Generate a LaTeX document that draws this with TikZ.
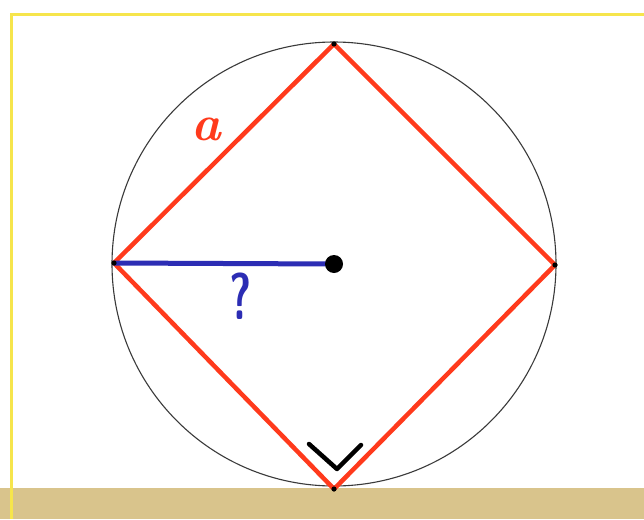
\documentclass[tikz,border=0pt]{standalone}
\usepackage{tikz}
\usetikzlibrary{arrows.meta,positioning}
\definecolor{sqRed}{HTML}{FF3A1C}
\definecolor{sqBlue}{HTML}{2C2DB4}
\definecolor{sqYellow}{HTML}{F6E54C}
\definecolor{sqTan}{HTML}{D9C48C}
\definecolor{sqGray}{HTML}{3A3A3A}
\tikzset{
  % Square inscribed in the circle.
  sq/side/.style={draw=sqRed, line width=4.5pt, line cap=round, line join=round},
  % The circle itself, thin.
  sq/circ/.style={draw=sqGray, line width=1.1pt},
  % The radius we are asking for.
  sq/radius/.style={draw=sqBlue, line width=5pt},
  % Right angle mark at the lower corner.
  sq/mark/.style={draw=black, line width=4.5pt, line cap=round, line join=round},
  % Labels, handwritten look.
  sq/label/.style={inner sep=0pt},
}

\begin{document}
\begin{tikzpicture}[x=1pt,y=-1pt]
  % paper, frame and table edge
  \fill[white] (0,0) rectangle (644,519);
  \useasboundingbox (0,0) rectangle (644,519);
  \fill[sqTan] (0,488) rectangle (644,519);
  \draw[sqYellow, line width=3pt] (644,15) -- (11,15) -- (11,519);

  \coordinate (O) at (334,264);
  \coordinate (T) at (334,44);
  \coordinate (L) at (114,263);
  \coordinate (R) at (555,265);
  \coordinate (B) at (334,489);

  \draw[sq/circ] (O) circle[radius=222];
  \draw[sq/side] (T) -- (R) -- (B) -- (L) -- cycle;
  \draw[sq/radius] (L) -- (O);
  \fill[black] (O) circle[radius=9];
  \foreach \p in {T,L,R,B} \fill[black] (\p) circle[radius=2.6];

  \draw[sq/mark] (309,444) -- (337,469) -- (361,445);

  \node[sq/label, text=sqRed, font=\fontsize{50}{50}\selectfont\bfseries\itshape] (la) at (206,129) {a};
  \node[sq/label, text=sqBlue, font=\fontsize{66}{66}\selectfont\bfseries\sffamily] (lq) at (241,296) {\scalebox{0.65}[1]{?}};
\end{tikzpicture}
\end{document}
